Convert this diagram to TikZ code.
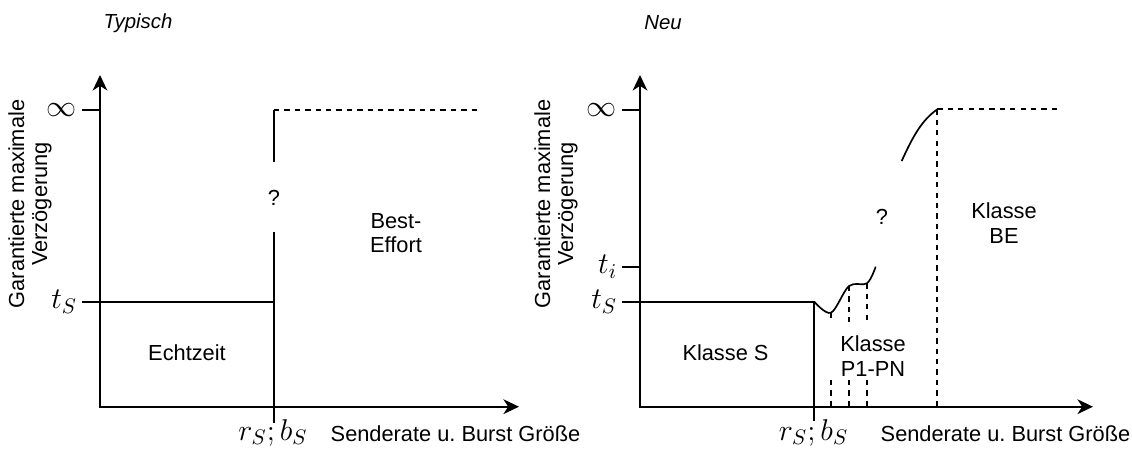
\documentclass[tikz,border=0pt]{standalone}
\usepackage{fix-cm}
\usepackage{graphicx}
\usepackage{fontspec}
\setmainfont{Liberation Sans}
\usetikzlibrary{positioning,calc,arrows.meta}
\newcommand{\mlab}[1]{\scalebox{1.38}{$#1$}}

\begin{document}
\begin{tikzpicture}[
	x=0.025cm,y=-0.025cm,
	font=\fontsize{15.5}{17.5}\selectfont,
	every text node part/.style={align=center},
	axes/.style={line width=1.2pt,{Stealth[length=3.9mm,width=3.7mm,inset=1.2mm]}-{Stealth[length=3.9mm,width=3.7mm,inset=1.2mm]}},
	ln/.style={line width=1.2pt},
	dsh/.style={line width=1.2pt,dash pattern=on 3.8pt off 3.6pt},
	ttl/.style={font=\fontsize{14.5}{17}\selectfont\itshape},
	ylab/.style={rotate=90,font=\fontsize{15.5}{16.5}\selectfont},
]
\useasboundingbox (0,0) rectangle (1132,448);

% typical case
\coordinate (y1) at (100,75);
\coordinate (x1) at (519,406.7);
\coordinate (inf1) at (82,110);
\coordinate (ts1) at (82,301.7);
\coordinate (r1) at (274,301.7);
\coordinate (q1a) at (274,162);
\coordinate (q1b) at (274,232);
\coordinate (r1b) at (274,423);
\coordinate (be1) at (274,110);
\coordinate (be1e) at (479,110);
\draw[axes] (y1) |- (x1);
\draw[ln] (inf1) -- (inf1 -| y1);
\draw[ln] (ts1) -- (r1);
\draw[ln] (be1) -- (q1a);
\draw[ln] (q1b) -- (r1b);
\draw[dsh] (be1) -- (be1e);
\node[left] (linf1) at (inf1) {\mlab{\infty}};
\node[left] (lts1) at (ts1) {\mlab{t_S}};
\node[anchor=base] (lr1) at (273,440) {\mlab{r_S;b_S}};
\node[anchor=base] (lx1) at (455.5,441) {Senderate u.\ Burst Größe};
\node[ylab] (ly1) at (30,204) {Garantierte maximale\\Verzögerung};
\node[ttl] (t1) at (138,23) {Typisch};
\node (q1) at (274,198) {?};
\node (ez) at (187,353) {Echtzeit};
\node (bef) at (396,233) {Best-\\Effort};

% new classes
\coordinate (y2) at (640,75);
\coordinate (x2) at (1093,406.7);
\coordinate (inf2) at (622,110);
\coordinate (ti2) at (622,267);
\coordinate (ts2) at (622,301.7);
\coordinate (r2) at (814.3,301.7);
\coordinate (r2b) at (814.3,421);
\coordinate (p1) at (831,312.7);
\coordinate (p2) at (849,286);
\coordinate (p3) at (867,283.3);
\coordinate (pe) at (875.7,266.7);
\coordinate (cut1) at (0,322);
\coordinate (cut2) at (0,380);
\coordinate (c1) at (901.7,161);
\coordinate (be2) at (937.3,109.3);
\coordinate (be2e) at (1057.7,109.3);
\draw[axes] (y2) |- (x2);
\draw[ln] (inf2) -- (inf2 -| y2);
\draw[ln] (ti2) -- (ti2 -| y2);
\draw[ln] (ts2) -- (r2) -- (r2b);
\draw[ln] plot[smooth,tension=0.55] coordinates {(r2) (p1) (p2) (p3) (pe)};
\foreach \p in {p1,p2,p3} {
	\draw[dsh] (\p) -- (\p |- cut1);
	\draw[dsh] (\p |- cut2) -- (\p |- x2);
}
\draw[ln] (c1) .. controls (913,136) and (922,120) .. (be2);
\draw[dsh] (be2) -- (be2e);
\draw[dsh] (be2) -- (be2 |- x2);
\node[left] (linf2) at (inf2) {\mlab{\infty}};
\node[left] (lti2) at (ti2) {\mlab{t_i}};
\node[left] (lts2) at (ts2) {\mlab{t_S}};
\node[anchor=base] (lr2) at (813.5,440) {\mlab{r_S;b_S}};
\node[anchor=base] (lx2) at (1005.5,441) {Senderate u.\ Burst Größe};
\node[ylab] (ly2) at (556,204) {Garantierte maximale\\Verzögerung};
\node[ttl] (t2) at (663,23) {Neu};
\node (q2) at (882,216.7) {?};
\node (ks) at (725.5,353) {Klasse S};
\node (kp) at (873,356) {Klasse\\P1-PN};
\node (kbe) at (1004,223) {Klasse\\BE};
\end{tikzpicture}
\end{document}
